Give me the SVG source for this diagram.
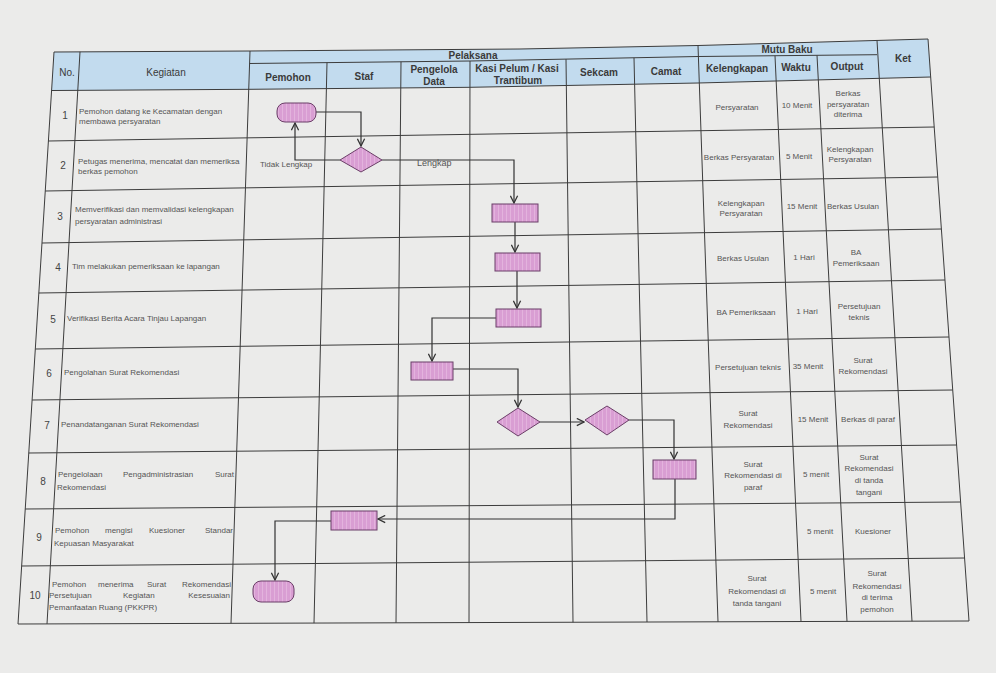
<svg xmlns="http://www.w3.org/2000/svg" width="996" height="673" viewBox="0 0 996 673">
<style>
.grid{stroke:#3c3c3c;stroke-width:1;fill:none}
.h{font-family:"Liberation Sans",Arial,sans-serif;font-size:10px;font-weight:bold;fill:#3a3a3a;text-anchor:middle;dominant-baseline:central}
.hn{font-family:"Liberation Sans",Arial,sans-serif;font-size:10px;fill:#3a3a3a;text-anchor:middle;dominant-baseline:central}
.t{font-family:"Liberation Sans",Arial,sans-serif;font-size:8px;fill:#555;dominant-baseline:central}
.n{font-family:"Liberation Sans",Arial,sans-serif;font-size:10px;fill:#444;text-anchor:middle;dominant-baseline:central}
.c{text-anchor:middle}
.e{text-anchor:end}
.node{fill:url(#pink);stroke:#6b3f68;stroke-width:1}
.flow{stroke:#333;stroke-width:1.2;fill:none;marker-end:url(#arr)}
</style>
<defs>
<pattern id="pink" width="4" height="4" patternUnits="userSpaceOnUse">
<rect width="4" height="4" fill="#d99ed3"/>
<rect x="2" width="1" height="4" fill="#e3b3dd"/>
</pattern>
<marker id="arr" viewBox="0 0 10 10" refX="9" refY="5" markerWidth="9" markerHeight="9" orient="auto" markerUnits="userSpaceOnUse">
<path d="M1,1 L9,5 L1,9" fill="none" stroke="#333" stroke-width="1.4"/>
</marker>
</defs>
<rect width="996" height="673" fill="#ebebea"/>
<g id="table">
<polygon points="54,52 250,51 520,49 698,45.5 928,39 930.7,77 698,83 470,87.3 250,89.3 51.5,90.5" fill="#c2dbee"/>
<polyline class="grid" points="54,52 250,51 520,49 698,45.5 928,39"/>
<polyline class="grid" points="249.5,63.5 470,61 698,56.5 877,54.7"/>
<polyline class="grid" points="51.5,90.5 250,89.3 470,87.3 698,83 930.7,77"/>
<line class="grid" x1="48.4" y1="141" x2="934.2" y2="127"/>
<line class="grid" x1="45.3" y1="191" x2="937.7" y2="177"/>
<line class="grid" x1="42" y1="243" x2="941.4" y2="229"/>
<line class="grid" x1="38.8" y1="293" x2="945" y2="280"/>
<line class="grid" x1="35.3" y1="349" x2="949" y2="337"/>
<line class="grid" x1="32.1" y1="400" x2="952.7" y2="390"/>
<line class="grid" x1="28.8" y1="453" x2="956.6" y2="445"/>
<line class="grid" x1="25.2" y1="509" x2="960.6" y2="502"/>
<line class="grid" x1="21.6" y1="566" x2="964.6" y2="558"/>
<line class="grid" x1="18" y1="624" x2="969" y2="621"/>
<line class="grid" x1="54" y1="52" x2="18" y2="624"/>
<line class="grid" x1="80" y1="51.8" x2="47" y2="623.9"/>
<line class="grid" x1="250" y1="51" x2="231" y2="623.3"/>
<line class="grid" x1="327" y1="62.6" x2="314" y2="623.1"/>
<line class="grid" x1="401" y1="61.8" x2="396" y2="622.8"/>
<line class="grid" x1="470" y1="61" x2="469" y2="622.6"/>
<line class="grid" x1="566" y1="59.2" x2="573" y2="622.3"/>
<line class="grid" x1="634" y1="57.9" x2="647" y2="622"/>
<line class="grid" x1="698" y1="45.5" x2="718" y2="621.8"/>
<line class="grid" x1="775" y1="55.8" x2="801" y2="621.5"/>
<line class="grid" x1="817" y1="55.3" x2="847" y2="621.4"/>
<line class="grid" x1="877" y1="40.4" x2="912" y2="621.2"/>
<line class="grid" x1="928" y1="39" x2="969" y2="621"/>
</g>
<g id="headers">
<text class="hn" x="67" y="72">No.</text>
<text class="hn" x="166" y="72">Kegiatan</text>
<text class="h" x="473" y="55">Pelaksana</text>
<text class="h" x="288" y="77">Pemohon</text>
<text class="h" x="364" y="76">Staf</text>
<text class="h" x="434" y="69">Pengelola</text>
<text class="h" x="434" y="81.5">Data</text>
<text class="h" x="517" y="68.5">Kasi Pelum / Kasi</text>
<text class="h" x="518" y="80.5">Trantibum</text>
<text class="h" x="599" y="72">Sekcam</text>
<text class="h" x="666" y="71">Camat</text>
<text class="h" x="787" y="49">Mutu Baku</text>
<text class="h" x="737" y="68.5">Kelengkapan</text>
<text class="h" x="796" y="67">Waktu</text>
<text class="h" x="847" y="66">Output</text>
<text class="h" x="903" y="58">Ket</text>
</g>
<g id="rows">
<text class="n" x="65" y="115">1</text>
<text class="t" x="79" y="111">Pemohon datang ke Kecamatan dengan</text>
<text class="t" x="79" y="121">membawa persyaratan</text>
<text class="n" x="63" y="165">2</text>
<text class="t" x="78" y="161">Petugas menerima, mencatat dan memeriksa</text>
<text class="t" x="78" y="171">berkas pemohon</text>
<text class="n" x="60" y="216">3</text>
<text class="t" x="75" y="209">Memverifikasi dan memvalidasi kelengkapan</text>
<text class="t" x="75" y="221">persyaratan administrasi</text>
<text class="n" x="58" y="267">4</text>
<text class="t" x="72" y="266">Tim melakukan pemeriksaan ke lapangan</text>
<text class="n" x="53" y="319">5</text>
<text class="t" x="67" y="318">Verifikasi Berita Acara Tinjau Lapangan</text>
<text class="n" x="49" y="373">6</text>
<text class="t" x="64" y="372">Pengolahan Surat Rekomendasi</text>
<text class="n" x="47" y="425">7</text>
<text class="t" x="61" y="424">Penandatanganan Surat Rekomendasi</text>
<text class="n" x="43" y="481">8</text>
<text class="t" x="58" y="474">Pengelolaan</text>
<text class="t" x="123" y="474">Pengadministrasian</text>
<text class="t e" x="234" y="474">Surat</text>
<text class="t" x="57" y="487">Rekomendasi</text>
<text class="n" x="39" y="537">9</text>
<text class="t" x="55" y="530">Pemohon</text>
<text class="t" x="105" y="530">mengisi</text>
<text class="t" x="149" y="530">Kuesioner</text>
<text class="t e" x="233" y="530">Standar</text>
<text class="t" x="54" y="543">Kepuasan Masyarakat</text>
<text class="n" x="35" y="595">10</text>
<text class="t" x="52" y="584">Pemohon</text>
<text class="t" x="98" y="584">menerima</text>
<text class="t" x="147" y="584">Surat</text>
<text class="t e" x="231" y="584">Rekomendasi</text>
<text class="t" x="49" y="595">Persetujuan</text>
<text class="t" x="123" y="595">Kegiatan</text>
<text class="t e" x="230" y="595">Kesesuaian</text>
<text class="t" x="49" y="607">Pemanfaatan Ruang (PKKPR)</text>
</g>
<g id="mutu">
<text class="t c" x="737" y="107">Persyaratan</text>
<text class="t c" x="797" y="105">10 Menit</text>
<text class="t c" x="848" y="93">Berkas</text>
<text class="t c" x="848" y="104">persyaratan</text>
<text class="t c" x="848" y="114">diterima</text>
<text class="t c" x="739" y="157">Berkas Persyaratan</text>
<text class="t c" x="799" y="156">5 Menit</text>
<text class="t c" x="850" y="149">Kelengkapan</text>
<text class="t c" x="850" y="159">Persyaratan</text>
<text class="t c" x="741" y="203">Kelengkapan</text>
<text class="t c" x="741" y="213">Persyaratan</text>
<text class="t c" x="802" y="206">15 Menit</text>
<text class="t c" x="853" y="206">Berkas Usulan</text>
<text class="t c" x="743" y="258">Berkas Usulan</text>
<text class="t c" x="804" y="257">1 Hari</text>
<text class="t c" x="856" y="252">BA</text>
<text class="t c" x="856" y="263">Pemeriksaan</text>
<text class="t c" x="746" y="312">BA Pemeriksaan</text>
<text class="t c" x="807" y="311">1 Hari</text>
<text class="t c" x="859" y="306">Persetujuan</text>
<text class="t c" x="859" y="317">teknis</text>
<text class="t c" x="748" y="367">Persetujuan teknis</text>
<text class="t c" x="808" y="366">35 Menit</text>
<text class="t c" x="863" y="360">Surat</text>
<text class="t c" x="863" y="371">Rekomendasi</text>
<text class="t c" x="748" y="413">Surat</text>
<text class="t c" x="748" y="425">Rekomendasi</text>
<text class="t c" x="813" y="419">15 Menit</text>
<text class="t c" x="868" y="419">Berkas di paraf</text>
<text class="t c" x="753" y="464">Surat</text>
<text class="t c" x="753" y="475">Rekomendasi di</text>
<text class="t c" x="753" y="487">paraf</text>
<text class="t c" x="816" y="474">5 menit</text>
<text class="t c" x="869" y="457">Surat</text>
<text class="t c" x="869" y="468">Rekomendasi</text>
<text class="t c" x="869" y="480">di tanda</text>
<text class="t c" x="869" y="492">tangani</text>
<text class="t c" x="820" y="531">5 menit</text>
<text class="t c" x="873" y="531">Kuesioner</text>
<text class="t c" x="757" y="578">Surat</text>
<text class="t c" x="757" y="591">Rekomendasi di</text>
<text class="t c" x="757" y="603">tanda tangani</text>
<text class="t c" x="823" y="591">5 menit</text>
<text class="t c" x="877" y="573">Surat</text>
<text class="t c" x="877" y="586">Rekomendasi</text>
<text class="t c" x="877" y="597">di terima</text>
<text class="t c" x="877" y="609">pemohon</text>
</g>
<g id="connectors">
<path class="flow" d="M316,112 H361 V146"/>
<path class="flow" d="M340,160 H295 V123"/>
<path class="flow" d="M382,160 H514 V203"/>
<path class="flow" d="M515,222 V252"/>
<path class="flow" d="M517,271 V308"/>
<path class="flow" d="M496,318 H432 V361"/>
<path class="flow" d="M453,369 H518 V407"/>
<path class="flow" d="M540,422 H584"/>
<path class="flow" d="M629,420 H674 V459"/>
<path class="flow" d="M675,479 V519 H378"/>
<path class="flow" d="M331,521 H275 V580"/>
<text class="t" x="260" y="164">Tidak Lengkap</text>
<text class="t" x="417" y="163" style="font-size:9px">Lengkap</text>
</g>
<g id="n1"><rect class="node" x="277" y="103" width="39" height="19" rx="8"/></g>
<g id="n2"><polygon class="node" points="340,160 361,147 382,160 361,172"/></g>
<g id="n3"><rect class="node" x="492" y="204" width="46" height="18"/></g>
<g id="n4"><rect class="node" x="495" y="253" width="45" height="18"/></g>
<g id="n5"><rect class="node" x="496" y="309" width="45" height="18"/></g>
<g id="n6"><rect class="node" x="411" y="362" width="42" height="18"/></g>
<g id="n7a"><polygon class="node" points="497,422 518,408 540,422 518,436"/></g>
<g id="n7b"><polygon class="node" points="585,420 607,406 629,420 607,435"/></g>
<g id="n8"><rect class="node" x="653" y="460" width="43" height="19"/></g>
<g id="n9"><rect class="node" x="331" y="511" width="46" height="19"/></g>
<g id="n10"><rect class="node" x="253" y="581" width="41" height="21" rx="8"/></g>
</svg>
